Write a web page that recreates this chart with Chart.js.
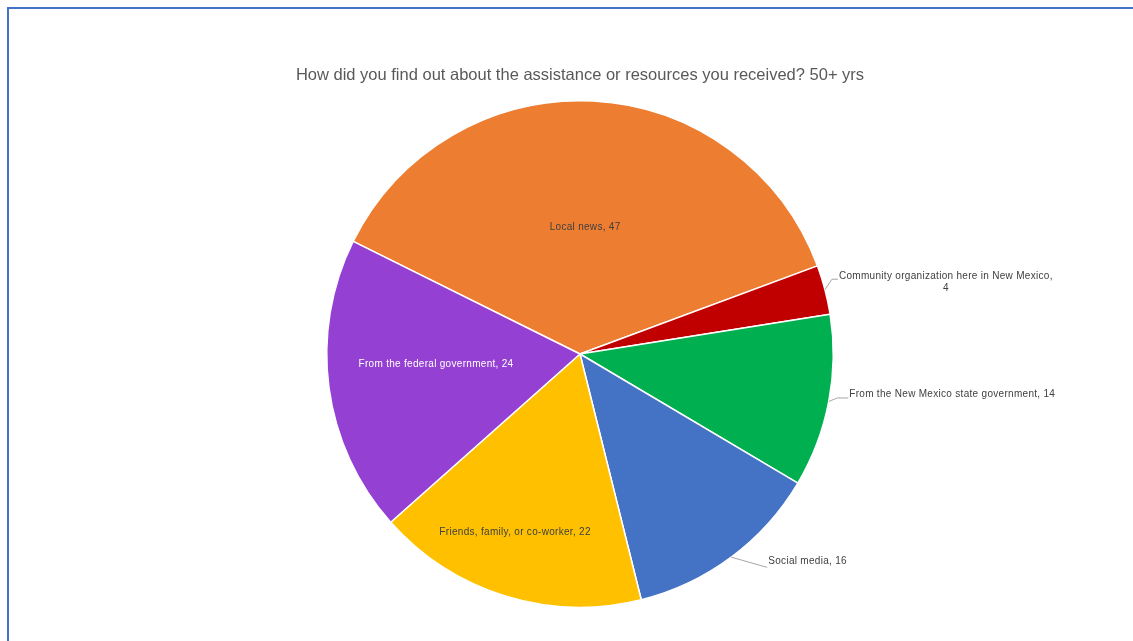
<!DOCTYPE html>
<html>
<head>
<meta charset="utf-8">
<title>Assistance sources, 50+ yrs</title>
<script src="https://cdn.jsdelivr.net/npm/chart.js@4.4.1/dist/chart.umd.min.js"></script>
<style>
  html, body { margin: 0; padding: 0; background: #fff; overflow: hidden; }
  #frame {
    position: absolute; left: 7px; top: 7px;
    width: 1200px; height: 700px;
    border: 2px solid #4472C4;
    pointer-events: none;
  }
  #pie { position: absolute; left: 0; top: 0; }
</style>
</head>
<body>
<canvas id="pie" width="1133" height="641"></canvas>
<div id="frame"></div>
<script>
let titleText = 'How did you find out about the assistance or resources you received? 50+ yrs';
let labels = [
  'Local news',
  'Community organization here in New Mexico',
  'From the New Mexico state government',
  'Social media',
  'Friends, family, or co-worker',
  'From the federal government'
];
let counts = [47, 4, 14, 16, 22, 24];
let colors = ['#ED7D31', '#C00000', '#00B050', '#4472C4', '#FFC000', '#9440D3'];

// where each data label goes: inside the slice, or outside with a leader line
let placement = [
  { inside: 0.5, turn: -0.7, color: '#404040' },
  { kink: [7, -10.5], run: 6, lift: -3, wrap: true },
  { kink: [8.5, -3.5], run: 11, lift: -4 },
  { kink: [35, 10], run: 1, lift: -6 },
  { inside: 0.75, turn: 2.8, color: '#404040' },
  { inside: 0.57, turn: 3.7, color: '#ffffff' }
];

// title is drawn by hand so it is not squeezed to the pie's width
const wideTitle = {
  id: 'wideTitle',
  afterDraw(chart) {
    const ctx = chart.ctx;
    const arc = chart.getDatasetMeta(0).data[0];
    ctx.save();
    ctx.font = '16.5px "Liberation Sans", Arial, sans-serif';
    ctx.fillStyle = '#595959';
    ctx.textAlign = 'center';
    ctx.textBaseline = 'middle';
    ctx.fillText(titleText, arc.x, 75);
    ctx.restore();
  }
};

const sliceLabels = {
  id: 'sliceLabels',
  afterDatasetsDraw(chart) {
    const ctx = chart.ctx;
    const meta = chart.getDatasetMeta(0);
    ctx.save();
    ctx.font = '10px "Liberation Sans", Arial, sans-serif';
    ctx.letterSpacing = '0.3px';
    ctx.textBaseline = 'middle';
    meta.data.forEach((arc, i) => {
      const p = placement[i];
      const text = labels[i] + ', ' + counts[i];
      const mid = (arc.startAngle + arc.endAngle) / 2;
      if (p.inside) {
        const a = mid + p.turn * Math.PI / 180;
        const r = arc.outerRadius * p.inside;
        ctx.fillStyle = p.color;
        ctx.textAlign = 'center';
        ctx.fillText(text, arc.x + Math.cos(a) * r, arc.y + Math.sin(a) * r);
        return;
      }
      const ex = arc.x + Math.cos(mid) * arc.outerRadius;
      const ey = arc.y + Math.sin(mid) * arc.outerRadius;
      const kx = ex + p.kink[0];
      const ky = ey + p.kink[1];
      ctx.strokeStyle = '#A6A6A6';
      ctx.lineWidth = 1;
      ctx.beginPath();
      ctx.moveTo(ex, ey);
      ctx.lineTo(kx, ky);
      ctx.lineTo(kx + p.run, ky);
      ctx.stroke();
      ctx.fillStyle = '#404040';
      const left = kx + p.run + 1;
      if (p.wrap) {
        const first = labels[i] + ',';
        const w = ctx.measureText(first).width;
        ctx.textAlign = 'left';
        ctx.fillText(first, left, ky + p.lift);
        ctx.textAlign = 'center';
        ctx.fillText(String(counts[i]), left + w / 2, ky + p.lift + 12);
      } else {
        ctx.textAlign = 'left';
        ctx.fillText(text, left, ky + p.lift);
      }
    });
    ctx.restore();
  }
};

new Chart(document.getElementById('pie').getContext('2d'), {
  type: 'pie',
  data: {
    labels: labels,
    datasets: [{
      data: counts,
      backgroundColor: colors,
      borderColor: '#ffffff',
      borderWidth: 1.5
    }]
  },
  options: {
    responsive: false,
    animation: false,
    rotation: -63.6,
    layout: { padding: { left: 326, right: 299, top: 100, bottom: 33 } },
    plugins: {
      legend: { display: false },
      tooltip: { enabled: false },
      title: { display: false }
    }
  },
  plugins: [sliceLabels, wideTitle]
});
</script>
</body>
</html>
